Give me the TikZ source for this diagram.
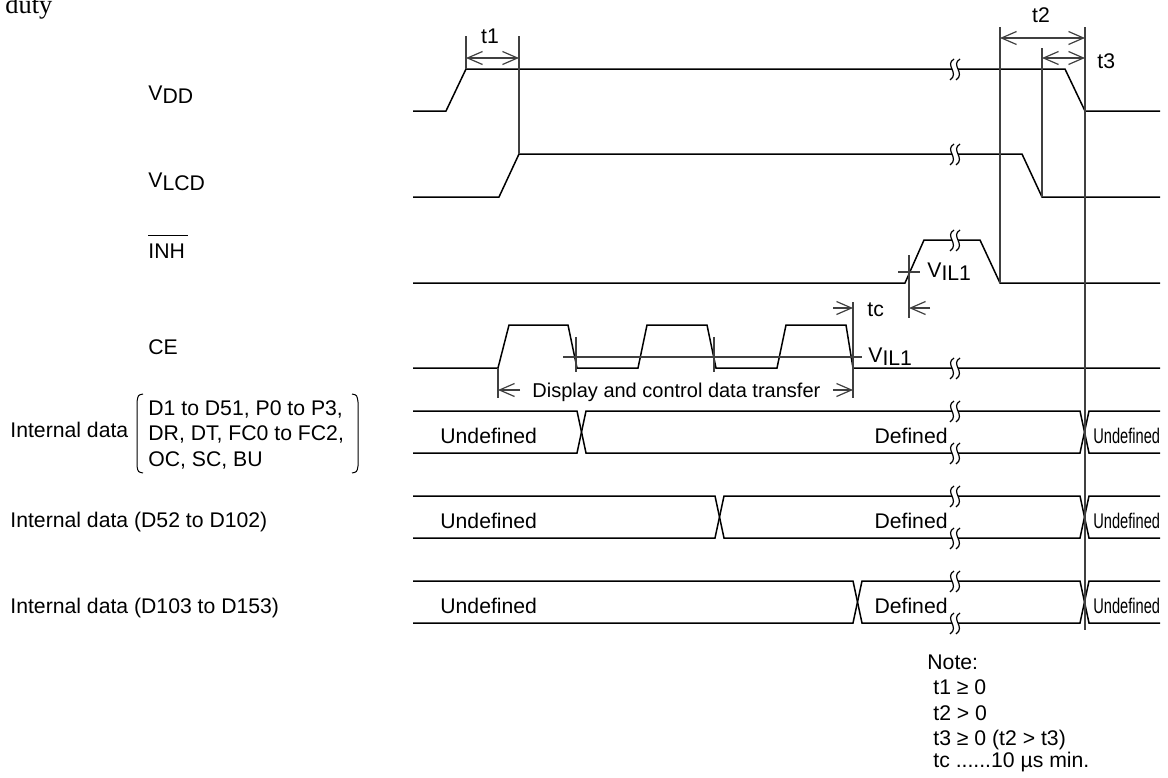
\documentclass[tikz,border=0pt]{standalone}
\usepackage{fontspec}
\setmainfont{Liberation Sans}
\newfontfamily\dutyfont{Liberation Serif}
\usepackage{graphicx}
\usetikzlibrary{arrows.meta}

\begin{document}
\begin{tikzpicture}[
    x=0.5pt, y=-0.5pt,
    every node/.style={font=\fontsize{10.6}{12.5}\selectfont, inner sep=0pt},
    sig/.style={black, line width=0.75pt},
    guide/.style={black!75, line width=0.6pt},
    >={Straight Barb[length=7.5pt, width=6.5pt]}
]
  \def\xbeg{413}
  \def\xend{1160}
  \def\sublo#1{\raisebox{-1.5pt}{#1}}
  \useasboundingbox (0,0) rectangle (1168,777);

  \node[anchor=base west, font=\dutyfont\fontsize{13.2}{15}\selectfont] (duty) at (5,13) {duty};

  % signal names
  \node[anchor=base west] (vdd)  at (148,100) {V\sublo{DD}};
  \node[anchor=base west] (vlcd) at (148,187) {V\sublo{LCD}};
  \node[anchor=base west] (inh)  at (148,258) {INH};
  \draw[line width=0.5pt] ([yshift=4pt]inh.north west) -- ([xshift=1.5pt, yshift=4pt]inh.north east);
  \node[anchor=base west] (ce)   at (148,354) {CE};
  \node[anchor=base west] (intdata) at (10,437) {Internal data};
  \node[anchor=base west] (dlistA) at (148,415) {D1 to D51, P0 to P3,};
  \node[anchor=base west] (dlistB) at (148,440) {DR, DT, FC0 to FC2,};
  \node[anchor=base west] (dlistC) at (148,466) {OC, SC, BU};
  \draw[line width=0.5pt] (143,394) .. controls (138,395) .. (137,402) -- (137,466)
    .. controls (138,472) .. (143,473);
  \draw[line width=0.5pt] (352,394) .. controls (357,395) .. (358,402) -- (358,466)
    .. controls (357,472) .. (352,473);
  \node[anchor=base west] (intdataB) at (10,527) {Internal data (D52 to D102)};
  \node[anchor=base west] (intdataC) at (10,613) {Internal data (D103 to D153)};

  % waveforms
  \draw[sig] (\xbeg,111) -- (446,111) -- (466,69) -- (1065,69) -- (1085,111) -- (\xend,111);
  \draw[sig] (\xbeg,197) -- (499,197) -- (519,154) -- (1022,154) -- (1042,197) -- (\xend,197);
  \draw[sig] (\xbeg,283) -- (905,283) -- (924,240) -- (980,240) -- (1000,283) -- (\xend,283);
  \draw[sig] plot coordinates {
    (\xbeg,368) (498,368) (509,325) (568,325) (577,368) (638,368) (647,325)
    (707,325) (716,368) (777,368) (786,325) (846,325) (853,368) (\xend,368)
  };

  \foreach \ytop/\ybot/\xa/\xb in {411/453/577/586, 496/538/715/724, 581/623/853/862}{
    \draw[sig] (\xbeg,\ytop) -- (\xa,\ytop) -- (\xb,\ybot) -- (1080,\ybot) -- (1089,\ytop) -- (\xend,\ytop);
    \draw[sig] (\xbeg,\ybot) -- (\xa,\ybot) -- (\xb,\ytop) -- (1080,\ytop) -- (1089,\ybot) -- (\xend,\ybot);
    \node[anchor=base west] (undefA\ytop) at (440,\ybot-10) {Undefined};
    \node[anchor=base east] (def\ytop) at (948,\ybot-10) {Defined};
    \node[anchor=base west] (undefB\ytop) at (1093,\ybot-10) {\scalebox{0.69}[1]{Undefined}};
  }

  % break marks
  \foreach \by in {69, 154, 240, 368, 411, 453, 496, 538, 581, 623}{
    \fill[white] (954,\by-10) .. controls (944,\by-4) and (960,\by+4) .. (950,\by+11)
      -- (956,\by+11) .. controls (966,\by+4) and (950,\by-4) .. (960,\by-10) -- cycle;
    \draw[line width=0.6pt] (954,\by-10) .. controls (944,\by-4) and (960,\by+4) .. (950,\by+11);
    \draw[line width=0.6pt] (960,\by-10) .. controls (950,\by-4) and (966,\by+4) .. (956,\by+11);
  }

  % timing marks
  \draw[guide] (466,36) -- (466,69);
  \draw[guide] (519,36) -- (519,154);
  \draw[guide, <->] (466,58) -- (519,58);
  \node[anchor=base] (tone) at (490,43) {t1};

  \draw[guide] (1000,27) -- (1000,283);
  \draw[guide] (1042,48) -- (1042,197);
  \draw[guide] (1085,27) -- (1085,630);
  \draw[guide, <->] (1000,38) -- (1085,38);
  \draw[guide, <->] (1042,58) -- (1085,58);
  \node[anchor=base] (ttwo) at (1041,22) {t2};
  \node[anchor=base west] (tthree) at (1097,68) {t3};

  \draw[guide] (909,255) -- (909,318);
  \draw[guide] (898,272) -- (920,272);
  \node[anchor=base west] (vilA) at (927,277) {V\sublo{IL1}};

  \draw[guide] (563,357) -- (862,357);
  \draw[guide] (576,337) -- (576,372);
  \draw[guide] (714,337) -- (714,372);
  \node[anchor=base west] (vilB) at (868,362) {V\sublo{IL1}};

  \draw[guide] (853,302) -- (853,398);
  \draw[guide, ->] (833,308) -- (853,308);
  \draw[guide, ->] (930,308) -- (909,308);
  \node[anchor=base west] (tc) at (867,316) {tc};

  \draw[guide] (498,368) -- (498,398);
  \draw[guide, ->] (520,390) -- (498,390);
  \draw[guide, ->] (833,390) -- (853,390);
  \node[anchor=base west, font=\fontsize{10}{12}\selectfont] (xfer) at (532,397)
    {Display and control data transfer};

  % note
  \node[anchor=base west] (note)  at (927,669) {Note:};
  \node[anchor=base west] (noteA) at (933,694) {t1 ≥ 0};
  \node[anchor=base west] (noteB) at (933,720) {t2 > 0};
  \node[anchor=base west] (noteC) at (933,745) {t3 ≥ 0 (t2 > t3)};
  \node[anchor=base west] (noteD) at (933,767) {tc \mbox{......}10 µs min.};
\end{tikzpicture}
\end{document}
